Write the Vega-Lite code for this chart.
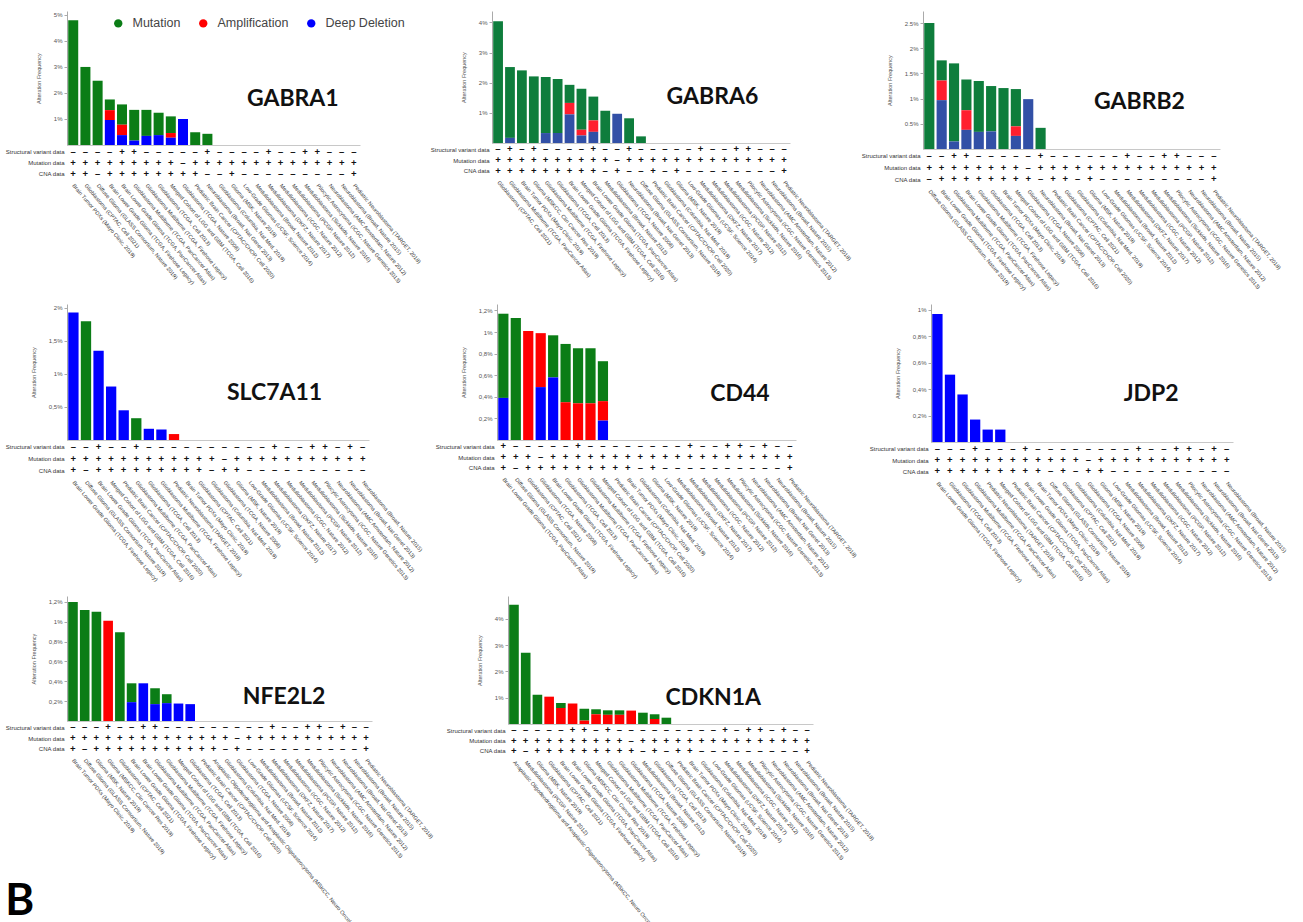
{
"$schema":"https://vega.github.io/schema/vega-lite/v6.json",
"background":"white",
"padding":{"left":5,"top":11,"right":5,"bottom":5},
"config":{"view":{"stroke":null},"axis":{"grid":false,"labelFont":"Liberation Sans","titleFont":"Liberation Sans"},"axisQuantitative":{"labelOverlap":false,"tickCount":20},"text":{"font":"Liberation Sans"},"legend":{"labelFont":"Liberation Sans"}},
"title":{"text":"B","orient":"bottom","anchor":"start","frame":"bounds","font":"Lato","fontSize":44,"fontWeight":"bold","color":"#000","offset":-58},
"datasets":{
"studies":[
{"n":1,"s":"Brain Tumor PDXs (Mayo Clinic, 2019)","Structural variant data":"–","Mutation data":"+","CNA data":"+"},
{"n":2,"s":"Glioblastoma (CPTAC, Cell 2021)","Structural variant data":"–","Mutation data":"+","CNA data":"+"},
{"n":3,"s":"Diffuse Glioma (GLASS Consortium, Nature 2019)","Structural variant data":"–","Mutation data":"+","CNA data":"–"},
{"n":4,"s":"Brain Lower Grade Glioma (TCGA, Firehose Legacy)","Structural variant data":"–","Mutation data":"+","CNA data":"+"},
{"n":5,"s":"Brain Lower Grade Glioma (TCGA, PanCancer Atlas)","Structural variant data":"+","Mutation data":"+","CNA data":"+"},
{"n":6,"s":"Glioblastoma Multiforme (TCGA, PanCancer Atlas)","Structural variant data":"+","Mutation data":"+","CNA data":"+"},
{"n":7,"s":"Glioblastoma Multiforme (TCGA, Firehose Legacy)","Structural variant data":"–","Mutation data":"+","CNA data":"+"},
{"n":8,"s":"Glioblastoma (TCGA, Cell 2013)","Structural variant data":"–","Mutation data":"+","CNA data":"+"},
{"n":9,"s":"Merged Cohort of LGG and GBM (TCGA, Cell 2016)","Structural variant data":"–","Mutation data":"+","CNA data":"+"},
{"n":10,"s":"Glioblastoma (TCGA, Nature 2008)","Structural variant data":"–","Mutation data":"–","CNA data":"+"},
{"n":11,"s":"Pediatric Brain Cancer (CPTAC/CHOP, Cell 2020)","Structural variant data":"–","Mutation data":"+","CNA data":"+"},
{"n":12,"s":"Neuroblastoma (Broad, Nat Genet 2013)","Structural variant data":"+","Mutation data":"+","CNA data":"–"},
{"n":13,"s":"Glioblastoma (Columbia, Nat Med. 2019)","Structural variant data":"–","Mutation data":"+","CNA data":"–"},
{"n":14,"s":"Glioma (MSKCC, Clin Cancer Res 2019)","Structural variant data":"+","Mutation data":"+","CNA data":"+"},
{"n":15,"s":"Glioma (MSK, Nature 2019)","Structural variant data":"–","Mutation data":"+","CNA data":"+"},
{"n":16,"s":"Low-Grade Gliomas (UCSF, Science 2014)","Structural variant data":"–","Mutation data":"+","CNA data":"–"},
{"n":17,"s":"Medulloblastoma (Broad, Nature 2012)","Structural variant data":"–","Mutation data":"+","CNA data":"–"},
{"n":18,"s":"Medulloblastoma (DKFZ, Nature 2017)","Structural variant data":"+","Mutation data":"+","CNA data":"–"},
{"n":19,"s":"Medulloblastoma (ICGC, Nature 2012)","Structural variant data":"–","Mutation data":"+","CNA data":"–"},
{"n":20,"s":"Medulloblastoma (PCGP, Nature 2012)","Structural variant data":"–","Mutation data":"+","CNA data":"–"},
{"n":21,"s":"Medulloblastoma (Sickkids, Nature 2016)","Structural variant data":"+","Mutation data":"+","CNA data":"–"},
{"n":22,"s":"Pilocytic Astrocytoma (ICGC, Nature Genetics 2013)","Structural variant data":"+","Mutation data":"+","CNA data":"–"},
{"n":23,"s":"Neuroblastoma (AMC Amsterdam, Nature 2012)","Structural variant data":"–","Mutation data":"+","CNA data":"–"},
{"n":24,"s":"Pediatric Neuroblastoma (TARGET, 2018)","Structural variant data":"–","Mutation data":"+","CNA data":"+"},
{"n":25,"s":"Anaplastic Oligodendroglioma and Anaplastic Oligoastrocytoma (MSKCC, Neuro Oncol 2017)","Structural variant data":"–","Mutation data":"+","CNA data":"+"},
{"n":26,"s":"Neuroblastoma (Broad, Nature 2015)","Structural variant data":"–","Mutation data":"+","CNA data":"–"}
],
"bars":[
{"g":"GABRA1","i":1,"n":1,"M":4.79,"A":0,"D":0},
{"g":"GABRA1","i":2,"n":2,"M":3.0,"A":0,"D":0},
{"g":"GABRA1","i":3,"n":3,"M":2.47,"A":0,"D":0},
{"g":"GABRA1","i":4,"n":4,"M":0.41,"A":0.38,"D":0.96},
{"g":"GABRA1","i":5,"n":5,"M":0.78,"A":0.4,"D":0.38},
{"g":"GABRA1","i":6,"n":6,"M":1.18,"A":0,"D":0.17},
{"g":"GABRA1","i":7,"n":7,"M":1.0,"A":0,"D":0.35},
{"g":"GABRA1","i":8,"n":8,"M":0.86,"A":0,"D":0.38},
{"g":"GABRA1","i":9,"n":9,"M":0.64,"A":0.18,"D":0.28},
{"g":"GABRA1","i":10,"n":10,"M":0,"A":0,"D":1.0},
{"g":"GABRA1","i":11,"n":11,"M":0.49,"A":0,"D":0},
{"g":"GABRA1","i":12,"n":12,"M":0.43,"A":0,"D":0},
{"g":"GABRA1","i":13,"n":13,"M":0,"A":0,"D":0},
{"g":"GABRA1","i":14,"n":15,"M":0,"A":0,"D":0},
{"g":"GABRA1","i":15,"n":16,"M":0,"A":0,"D":0},
{"g":"GABRA1","i":16,"n":17,"M":0,"A":0,"D":0},
{"g":"GABRA1","i":17,"n":18,"M":0,"A":0,"D":0},
{"g":"GABRA1","i":18,"n":19,"M":0,"A":0,"D":0},
{"g":"GABRA1","i":19,"n":20,"M":0,"A":0,"D":0},
{"g":"GABRA1","i":20,"n":21,"M":0,"A":0,"D":0},
{"g":"GABRA1","i":21,"n":22,"M":0,"A":0,"D":0},
{"g":"GABRA1","i":22,"n":23,"M":0,"A":0,"D":0},
{"g":"GABRA1","i":23,"n":26,"M":0,"A":0,"D":0},
{"g":"GABRA1","i":24,"n":24,"M":0,"A":0,"D":0},
{"g":"GABRA6","i":1,"n":2,"M":4.04,"A":0,"D":0},
{"g":"GABRA6","i":2,"n":6,"M":2.35,"A":0,"D":0.17},
{"g":"GABRA6","i":3,"n":1,"M":2.41,"A":0,"D":0},
{"g":"GABRA6","i":4,"n":14,"M":2.21,"A":0,"D":0},
{"g":"GABRA6","i":5,"n":7,"M":1.86,"A":0,"D":0.33},
{"g":"GABRA6","i":6,"n":8,"M":1.79,"A":0,"D":0.33},
{"g":"GABRA6","i":7,"n":4,"M":0.6,"A":0.38,"D":0.95},
{"g":"GABRA6","i":8,"n":9,"M":1.36,"A":0.19,"D":0.25},
{"g":"GABRA6","i":9,"n":5,"M":0.79,"A":0.38,"D":0.37},
{"g":"GABRA6","i":10,"n":17,"M":1.07,"A":0,"D":0},
{"g":"GABRA6","i":11,"n":10,"M":0,"A":0,"D":0.97},
{"g":"GABRA6","i":12,"n":12,"M":0.82,"A":0,"D":0},
{"g":"GABRA6","i":13,"n":3,"M":0.22,"A":0,"D":0},
{"g":"GABRA6","i":14,"n":11,"M":0,"A":0,"D":0},
{"g":"GABRA6","i":15,"n":13,"M":0,"A":0,"D":0},
{"g":"GABRA6","i":16,"n":15,"M":0,"A":0,"D":0},
{"g":"GABRA6","i":17,"n":16,"M":0,"A":0,"D":0},
{"g":"GABRA6","i":18,"n":18,"M":0,"A":0,"D":0},
{"g":"GABRA6","i":19,"n":19,"M":0,"A":0,"D":0},
{"g":"GABRA6","i":20,"n":20,"M":0,"A":0,"D":0},
{"g":"GABRA6","i":21,"n":21,"M":0,"A":0,"D":0},
{"g":"GABRA6","i":22,"n":22,"M":0,"A":0,"D":0},
{"g":"GABRA6","i":23,"n":23,"M":0,"A":0,"D":0},
{"g":"GABRA6","i":24,"n":26,"M":0,"A":0,"D":0},
{"g":"GABRA6","i":25,"n":24,"M":0,"A":0,"D":0},
{"g":"GABRB2","i":1,"n":3,"M":2.5,"A":0,"D":0},
{"g":"GABRB2","i":2,"n":4,"M":0.4,"A":0.39,"D":0.97},
{"g":"GABRB2","i":3,"n":6,"M":1.55,"A":0,"D":0.15},
{"g":"GABRB2","i":4,"n":5,"M":0.61,"A":0.39,"D":0.38},
{"g":"GABRB2","i":5,"n":7,"M":1.01,"A":0,"D":0.34},
{"g":"GABRB2","i":6,"n":8,"M":0.9,"A":0,"D":0.35},
{"g":"GABRB2","i":7,"n":1,"M":1.21,"A":0,"D":0},
{"g":"GABRB2","i":8,"n":9,"M":0.74,"A":0.19,"D":0.26},
{"g":"GABRB2","i":9,"n":10,"M":0,"A":0,"D":0.99},
{"g":"GABRB2","i":10,"n":12,"M":0.42,"A":0,"D":0},
{"g":"GABRB2","i":11,"n":11,"M":0,"A":0,"D":0},
{"g":"GABRB2","i":12,"n":2,"M":0,"A":0,"D":0},
{"g":"GABRB2","i":13,"n":13,"M":0,"A":0,"D":0},
{"g":"GABRB2","i":14,"n":15,"M":0,"A":0,"D":0},
{"g":"GABRB2","i":15,"n":16,"M":0,"A":0,"D":0},
{"g":"GABRB2","i":16,"n":17,"M":0,"A":0,"D":0},
{"g":"GABRB2","i":17,"n":18,"M":0,"A":0,"D":0},
{"g":"GABRB2","i":18,"n":19,"M":0,"A":0,"D":0},
{"g":"GABRB2","i":19,"n":20,"M":0,"A":0,"D":0},
{"g":"GABRB2","i":20,"n":21,"M":0,"A":0,"D":0},
{"g":"GABRB2","i":21,"n":22,"M":0,"A":0,"D":0},
{"g":"GABRB2","i":22,"n":23,"M":0,"A":0,"D":0},
{"g":"GABRB2","i":23,"n":26,"M":0,"A":0,"D":0},
{"g":"GABRB2","i":24,"n":24,"M":0,"A":0,"D":0},
{"g":"SLC7A11","i":1,"n":4,"M":0,"A":0,"D":1.93},
{"g":"SLC7A11","i":2,"n":3,"M":1.8,"A":0,"D":0},
{"g":"SLC7A11","i":3,"n":5,"M":0,"A":0,"D":1.35},
{"g":"SLC7A11","i":4,"n":9,"M":0,"A":0,"D":0.81},
{"g":"SLC7A11","i":5,"n":11,"M":0,"A":0,"D":0.45},
{"g":"SLC7A11","i":6,"n":6,"M":0.33,"A":0,"D":0},
{"g":"SLC7A11","i":7,"n":8,"M":0,"A":0,"D":0.17},
{"g":"SLC7A11","i":8,"n":7,"M":0,"A":0,"D":0.16},
{"g":"SLC7A11","i":9,"n":24,"M":0,"A":0.09,"D":0},
{"g":"SLC7A11","i":10,"n":1,"M":0,"A":0,"D":0},
{"g":"SLC7A11","i":11,"n":2,"M":0,"A":0,"D":0},
{"g":"SLC7A11","i":12,"n":13,"M":0,"A":0,"D":0},
{"g":"SLC7A11","i":13,"n":10,"M":0,"A":0,"D":0},
{"g":"SLC7A11","i":14,"n":15,"M":0,"A":0,"D":0},
{"g":"SLC7A11","i":15,"n":16,"M":0,"A":0,"D":0},
{"g":"SLC7A11","i":16,"n":17,"M":0,"A":0,"D":0},
{"g":"SLC7A11","i":17,"n":18,"M":0,"A":0,"D":0},
{"g":"SLC7A11","i":18,"n":19,"M":0,"A":0,"D":0},
{"g":"SLC7A11","i":19,"n":20,"M":0,"A":0,"D":0},
{"g":"SLC7A11","i":20,"n":21,"M":0,"A":0,"D":0},
{"g":"SLC7A11","i":21,"n":22,"M":0,"A":0,"D":0},
{"g":"SLC7A11","i":22,"n":23,"M":0,"A":0,"D":0},
{"g":"SLC7A11","i":23,"n":12,"M":0,"A":0,"D":0},
{"g":"SLC7A11","i":24,"n":26,"M":0,"A":0,"D":0},
{"g":"CD44","i":1,"n":5,"M":0.78,"A":0,"D":0.39},
{"g":"CD44","i":2,"n":3,"M":1.13,"A":0,"D":0},
{"g":"CD44","i":3,"n":2,"M":0,"A":1.01,"D":0},
{"g":"CD44","i":4,"n":10,"M":0,"A":0.5,"D":0.49},
{"g":"CD44","i":5,"n":4,"M":0.39,"A":0,"D":0.58},
{"g":"CD44","i":6,"n":8,"M":0.54,"A":0.35,"D":0},
{"g":"CD44","i":7,"n":6,"M":0.51,"A":0.34,"D":0},
{"g":"CD44","i":8,"n":7,"M":0.51,"A":0.34,"D":0},
{"g":"CD44","i":9,"n":9,"M":0.37,"A":0.18,"D":0.18},
{"g":"CD44","i":10,"n":11,"M":0,"A":0,"D":0},
{"g":"CD44","i":11,"n":1,"M":0,"A":0,"D":0},
{"g":"CD44","i":12,"n":13,"M":0,"A":0,"D":0},
{"g":"CD44","i":13,"n":15,"M":0,"A":0,"D":0},
{"g":"CD44","i":14,"n":16,"M":0,"A":0,"D":0},
{"g":"CD44","i":15,"n":17,"M":0,"A":0,"D":0},
{"g":"CD44","i":16,"n":18,"M":0,"A":0,"D":0},
{"g":"CD44","i":17,"n":19,"M":0,"A":0,"D":0},
{"g":"CD44","i":18,"n":20,"M":0,"A":0,"D":0},
{"g":"CD44","i":19,"n":21,"M":0,"A":0,"D":0},
{"g":"CD44","i":20,"n":22,"M":0,"A":0,"D":0},
{"g":"CD44","i":21,"n":23,"M":0,"A":0,"D":0},
{"g":"CD44","i":22,"n":12,"M":0,"A":0,"D":0},
{"g":"CD44","i":23,"n":26,"M":0,"A":0,"D":0},
{"g":"CD44","i":24,"n":24,"M":0,"A":0,"D":0},
{"g":"JDP2","i":1,"n":4,"M":0,"A":0,"D":0.97},
{"g":"JDP2","i":2,"n":8,"M":0,"A":0,"D":0.51},
{"g":"JDP2","i":3,"n":7,"M":0,"A":0,"D":0.36},
{"g":"JDP2","i":4,"n":6,"M":0,"A":0,"D":0.17},
{"g":"JDP2","i":5,"n":24,"M":0,"A":0,"D":0.094},
{"g":"JDP2","i":6,"n":9,"M":0,"A":0,"D":0.094},
{"g":"JDP2","i":7,"n":11,"M":0,"A":0,"D":0},
{"g":"JDP2","i":8,"n":5,"M":0,"A":0,"D":0},
{"g":"JDP2","i":9,"n":1,"M":0,"A":0,"D":0},
{"g":"JDP2","i":10,"n":3,"M":0,"A":0,"D":0},
{"g":"JDP2","i":11,"n":2,"M":0,"A":0,"D":0},
{"g":"JDP2","i":12,"n":13,"M":0,"A":0,"D":0},
{"g":"JDP2","i":13,"n":10,"M":0,"A":0,"D":0},
{"g":"JDP2","i":14,"n":15,"M":0,"A":0,"D":0},
{"g":"JDP2","i":15,"n":16,"M":0,"A":0,"D":0},
{"g":"JDP2","i":16,"n":17,"M":0,"A":0,"D":0},
{"g":"JDP2","i":17,"n":18,"M":0,"A":0,"D":0},
{"g":"JDP2","i":18,"n":19,"M":0,"A":0,"D":0},
{"g":"JDP2","i":19,"n":20,"M":0,"A":0,"D":0},
{"g":"JDP2","i":20,"n":21,"M":0,"A":0,"D":0},
{"g":"JDP2","i":21,"n":22,"M":0,"A":0,"D":0},
{"g":"JDP2","i":22,"n":23,"M":0,"A":0,"D":0},
{"g":"JDP2","i":23,"n":12,"M":0,"A":0,"D":0},
{"g":"JDP2","i":24,"n":26,"M":0,"A":0,"D":0},
{"g":"NFE2L2","i":1,"n":1,"M":1.2,"A":0,"D":0},
{"g":"NFE2L2","i":2,"n":3,"M":1.12,"A":0,"D":0},
{"g":"NFE2L2","i":3,"n":15,"M":1.1,"A":0,"D":0},
{"g":"NFE2L2","i":4,"n":14,"M":0,"A":1.01,"D":0},
{"g":"NFE2L2","i":5,"n":2,"M":0.895,"A":0,"D":0},
{"g":"NFE2L2","i":6,"n":4,"M":0.19,"A":0,"D":0.19},
{"g":"NFE2L2","i":7,"n":5,"M":0,"A":0,"D":0.38},
{"g":"NFE2L2","i":8,"n":6,"M":0.16,"A":0,"D":0.17},
{"g":"NFE2L2","i":9,"n":7,"M":0.09,"A":0,"D":0.18},
{"g":"NFE2L2","i":10,"n":9,"M":0,"A":0,"D":0.176},
{"g":"NFE2L2","i":11,"n":8,"M":0,"A":0,"D":0.17},
{"g":"NFE2L2","i":12,"n":11,"M":0,"A":0,"D":0},
{"g":"NFE2L2","i":13,"n":25,"M":0,"A":0,"D":0},
{"g":"NFE2L2","i":14,"n":13,"M":0,"A":0,"D":0},
{"g":"NFE2L2","i":15,"n":10,"M":0,"A":0,"D":0},
{"g":"NFE2L2","i":16,"n":16,"M":0,"A":0,"D":0},
{"g":"NFE2L2","i":17,"n":17,"M":0,"A":0,"D":0},
{"g":"NFE2L2","i":18,"n":18,"M":0,"A":0,"D":0},
{"g":"NFE2L2","i":19,"n":19,"M":0,"A":0,"D":0},
{"g":"NFE2L2","i":20,"n":20,"M":0,"A":0,"D":0},
{"g":"NFE2L2","i":21,"n":21,"M":0,"A":0,"D":0},
{"g":"NFE2L2","i":22,"n":22,"M":0,"A":0,"D":0},
{"g":"NFE2L2","i":23,"n":23,"M":0,"A":0,"D":0},
{"g":"NFE2L2","i":24,"n":12,"M":0,"A":0,"D":0},
{"g":"NFE2L2","i":25,"n":26,"M":0,"A":0,"D":0},
{"g":"NFE2L2","i":26,"n":24,"M":0,"A":0,"D":0},
{"g":"CDKN1A","i":1,"n":25,"M":4.54,"A":0,"D":0},
{"g":"CDKN1A","i":2,"n":20,"M":2.71,"A":0,"D":0},
{"g":"CDKN1A","i":3,"n":15,"M":1.11,"A":0,"D":0},
{"g":"CDKN1A","i":4,"n":2,"M":0,"A":1.04,"D":0},
{"g":"CDKN1A","i":5,"n":4,"M":0.19,"A":0.61,"D":0},
{"g":"CDKN1A","i":6,"n":5,"M":0,"A":0.78,"D":0},
{"g":"CDKN1A","i":7,"n":14,"M":0.45,"A":0.13,"D":0},
{"g":"CDKN1A","i":8,"n":9,"M":0.19,"A":0.37,"D":0},
{"g":"CDKN1A","i":9,"n":6,"M":0.17,"A":0.35,"D":0},
{"g":"CDKN1A","i":10,"n":7,"M":0.17,"A":0.35,"D":0},
{"g":"CDKN1A","i":11,"n":10,"M":0,"A":0.51,"D":0},
{"g":"CDKN1A","i":12,"n":17,"M":0.43,"A":0,"D":0},
{"g":"CDKN1A","i":13,"n":8,"M":0.18,"A":0.19,"D":0},
{"g":"CDKN1A","i":14,"n":3,"M":0.24,"A":0,"D":0},
{"g":"CDKN1A","i":15,"n":11,"M":0,"A":0,"D":0},
{"g":"CDKN1A","i":16,"n":1,"M":0,"A":0,"D":0},
{"g":"CDKN1A","i":17,"n":13,"M":0,"A":0,"D":0},
{"g":"CDKN1A","i":18,"n":16,"M":0,"A":0,"D":0},
{"g":"CDKN1A","i":19,"n":18,"M":0,"A":0,"D":0},
{"g":"CDKN1A","i":20,"n":19,"M":0,"A":0,"D":0},
{"g":"CDKN1A","i":21,"n":21,"M":0,"A":0,"D":0},
{"g":"CDKN1A","i":22,"n":22,"M":0,"A":0,"D":0},
{"g":"CDKN1A","i":23,"n":23,"M":0,"A":0,"D":0},
{"g":"CDKN1A","i":24,"n":12,"M":0,"A":0,"D":0},
{"g":"CDKN1A","i":25,"n":26,"M":0,"A":0,"D":0},
{"g":"CDKN1A","i":26,"n":24,"M":0,"A":0,"D":0}
]},
"spacing":12,
"resolve":{"scale":{"color":"independent"},"legend":{"color":"independent"}},
"vconcat":[
{"spacing":9,"resolve":{"scale":{"color":"independent"},"legend":{"color":"independent"}},"hconcat":[
{"spacing":1,"vconcat":[
{"width":293,"height":134,"data":{"name":"bars"},"transform":[{"filter":"datum.g == 'GABRA1'"},{"lookup":"n","from":{"data":{"name":"studies"},"key":"n","fields":["s"]}}],
"layer":[
{"transform":[{"fold":["M","A","D"],"as":["k","v"]},{"calculate":"indexof(['D','A','M'], datum.k)","as":"o"}],
"mark":{"type":"bar"},
"encoding":{
"x":{"field":"s","type":"nominal","sort":{"field":"i","op":"min"},"scale":{"paddingInner":0.18,"paddingOuter":0.1},"axis":{"labels":false,"ticks":false,"title":null,"domainColor":"#c8c8c8"}},
"y":{"field":"v","type":"quantitative","stack":"zero","scale":{"domain":[0,5.15],"nice":false},"axis":{"values":[1,2,3,4,5],"tickCount":20,"labelOverlap":false,"labelExpr":"datum.value + '%'","labelFontSize":6,"labelColor":"#555","tickSize":3,"tickColor":"#aaa","domainColor":"#aaa","title":"Alteration Frequency","titleFontSize":5.5,"titleFontWeight":"normal","titleColor":"#555","titlePadding":12}},
"color":{"field":"k","type":"nominal","scale":{"domain":["M","A","D"],"range":["#0b7d16","#ff0000","#0000ff"]},"legend":{"orient":"none","legendX":45,"legendY":6,"direction":"horizontal","title":null,"symbolType":"circle","symbolSize":70,"symbolStrokeWidth":0,"labelFontSize":12.5,"labelColor":"#444","columnPadding":16,"labelOffset":8,"labelExpr":"datum.label == 'M' ? 'Mutation' : datum.label == 'A' ? 'Amplification' : 'Deep Deletion'"}},
"order":{"field":"o","type":"quantitative"}}},
{"transform":[{"filter":"datum.i == 19"}],
"mark":{"type":"text","font":"Lato","fontWeight":"bold","fontSize":23,"color":"#111"},
"encoding":{"x":{"field":"s","type":"nominal","sort":{"field":"i","op":"min"}},"y":{"datum":1.77,"type":"quantitative"},"text":{"field":"g"}}}
]},
{"width":293,"height":33,"data":{"name":"bars"},"transform":[{"filter":"datum.g == 'GABRA1'"},{"lookup":"n","from":{"data":{"name":"studies"},"key":"n","fields":["s","Structural variant data","Mutation data","CNA data"]}},{"fold":["Structural variant data","Mutation data","CNA data"],"as":["row","sym"]}],
"mark":{"type":"text","fontSize":9.5,"fontWeight":"bold","color":"#111"},
"encoding":{
"x":{"field":"s","type":"nominal","sort":{"field":"i","op":"min"},"scale":{"paddingInner":0.18,"paddingOuter":0.1},"axis":{"title":null,"ticks":false,"domain":false,"labelAngle":50,"labelAlign":"left","labelBaseline":"middle","labelPadding":5,"labelFontSize":5.5,"labelLimit":400,"labelColor":"#333","labelOverlap":false}},
"y":{"field":"row","type":"nominal","sort":["Structural variant data","Mutation data","CNA data"],"axis":{"title":null,"ticks":false,"domain":false,"labelFontSize":6,"labelColor":"#333","labelPadding":3}},
"text":{"field":"sym"}}}
]},
{"spacing":1,"vconcat":[
{"width":298,"height":132,"data":{"name":"bars"},"transform":[{"filter":"datum.g == 'GABRA6'"},{"lookup":"n","from":{"data":{"name":"studies"},"key":"n","fields":["s"]}}],
"layer":[
{"transform":[{"fold":["M","A","D"],"as":["k","v"]},{"calculate":"indexof(['D','A','M'], datum.k)","as":"o"}],
"mark":{"type":"bar"},
"encoding":{
"x":{"field":"s","type":"nominal","sort":{"field":"i","op":"min"},"scale":{"paddingInner":0.18,"paddingOuter":0.1},"axis":{"labels":false,"ticks":false,"title":null,"domainColor":"#c8c8c8"}},
"y":{"field":"v","type":"quantitative","stack":"zero","scale":{"domain":[0,4.38],"nice":false},"axis":{"values":[1,2,3,4],"tickCount":20,"labelOverlap":false,"labelExpr":"datum.value + '%'","labelFontSize":6,"labelColor":"#555","tickSize":3,"tickColor":"#aaa","domainColor":"#aaa","title":"Alteration Frequency","titleFontSize":5.5,"titleFontWeight":"normal","titleColor":"#555","titlePadding":12}},
"color":{"field":"k","type":"nominal","scale":{"domain":["M","A","D"],"range":["#0e7d3c","#ff1f2e","#3250a6"]},"legend":null},
"order":{"field":"o","type":"quantitative"}}},
{"transform":[{"filter":"datum.i == 19"}],
"mark":{"type":"text","font":"Lato","fontWeight":"bold","fontSize":23,"color":"#111"},
"encoding":{"x":{"field":"s","type":"nominal","sort":{"field":"i","op":"min"}},"y":{"datum":1.53,"type":"quantitative"},"text":{"field":"g"}}}
]},
{"width":298,"height":32,"data":{"name":"bars"},"transform":[{"filter":"datum.g == 'GABRA6'"},{"lookup":"n","from":{"data":{"name":"studies"},"key":"n","fields":["s","Structural variant data","Mutation data","CNA data"]}},{"fold":["Structural variant data","Mutation data","CNA data"],"as":["row","sym"]}],
"mark":{"type":"text","fontSize":9.5,"fontWeight":"bold","color":"#111"},
"encoding":{
"x":{"field":"s","type":"nominal","sort":{"field":"i","op":"min"},"scale":{"paddingInner":0.18,"paddingOuter":0.1},"axis":{"title":null,"ticks":false,"domain":false,"labelAngle":50,"labelAlign":"left","labelBaseline":"middle","labelPadding":5,"labelFontSize":5.5,"labelLimit":400,"labelColor":"#333","labelOverlap":false}},
"y":{"field":"row","type":"nominal","sort":["Structural variant data","Mutation data","CNA data"],"axis":{"title":null,"ticks":false,"domain":false,"labelFontSize":6,"labelColor":"#333","labelPadding":3}},
"text":{"field":"sym"}}}
]},
{"spacing":1,"vconcat":[
{"width":297,"height":138,"data":{"name":"bars"},"transform":[{"filter":"datum.g == 'GABRB2'"},{"lookup":"n","from":{"data":{"name":"studies"},"key":"n","fields":["s"]}}],
"layer":[
{"transform":[{"fold":["M","A","D"],"as":["k","v"]},{"calculate":"indexof(['D','A','M'], datum.k)","as":"o"}],
"mark":{"type":"bar"},
"encoding":{
"x":{"field":"s","type":"nominal","sort":{"field":"i","op":"min"},"scale":{"paddingInner":0.18,"paddingOuter":0.1},"axis":{"labels":false,"ticks":false,"title":null,"domainColor":"#c8c8c8"}},
"y":{"field":"v","type":"quantitative","stack":"zero","scale":{"domain":[0,2.74],"nice":false},"axis":{"values":[0.5,1,1.5,2,2.5],"tickCount":20,"labelOverlap":false,"labelExpr":"format(datum.value, '~g') + '%'","labelFontSize":6,"labelColor":"#555","tickSize":3,"tickColor":"#aaa","domainColor":"#aaa","title":"Alteration Frequency","titleFontSize":5.5,"titleFontWeight":"normal","titleColor":"#555","titlePadding":12}},
"color":{"field":"k","type":"nominal","scale":{"domain":["M","A","D"],"range":["#0e7d3c","#ff1f2e","#3250a6"]},"legend":null},
"order":{"field":"o","type":"quantitative"}}},
{"transform":[{"filter":"datum.i == 18"}],
"mark":{"type":"text","font":"Lato","fontWeight":"bold","fontSize":23,"color":"#111"},
"encoding":{"x":{"field":"s","type":"nominal","sort":{"field":"i","op":"min"}},"y":{"datum":0.93,"type":"quantitative"},"text":{"field":"g"}}}
]},
{"width":297,"height":35,"data":{"name":"bars"},"transform":[{"filter":"datum.g == 'GABRB2'"},{"lookup":"n","from":{"data":{"name":"studies"},"key":"n","fields":["s","Structural variant data","Mutation data","CNA data"]}},{"fold":["Structural variant data","Mutation data","CNA data"],"as":["row","sym"]}],
"mark":{"type":"text","fontSize":9.5,"fontWeight":"bold","color":"#111"},
"encoding":{
"x":{"field":"s","type":"nominal","sort":{"field":"i","op":"min"},"scale":{"paddingInner":0.18,"paddingOuter":0.1},"axis":{"title":null,"ticks":false,"domain":false,"labelAngle":50,"labelAlign":"left","labelBaseline":"middle","labelPadding":5,"labelFontSize":5.5,"labelLimit":400,"labelColor":"#333","labelOverlap":false}},
"y":{"field":"row","type":"nominal","sort":["Structural variant data","Mutation data","CNA data"],"axis":{"title":null,"ticks":false,"domain":false,"labelFontSize":6,"labelColor":"#333","labelPadding":3}},
"text":{"field":"sym"}}}
]}
]},
{"spacing":12,"resolve":{"scale":{"color":"independent"},"legend":{"color":"independent"}},"hconcat":[
{"spacing":1,"vconcat":[
{"width":302,"height":136,"data":{"name":"bars"},"transform":[{"filter":"datum.g == 'SLC7A11'"},{"lookup":"n","from":{"data":{"name":"studies"},"key":"n","fields":["s"]}}],
"layer":[
{"transform":[{"fold":["M","A","D"],"as":["k","v"]},{"calculate":"indexof(['D','A','M'], datum.k)","as":"o"}],
"mark":{"type":"bar"},
"encoding":{
"x":{"field":"s","type":"nominal","sort":{"field":"i","op":"min"},"scale":{"paddingInner":0.18,"paddingOuter":0.1},"axis":{"labels":false,"ticks":false,"title":null,"domainColor":"#c8c8c8"}},
"y":{"field":"v","type":"quantitative","stack":"zero","scale":{"domain":[0,2.06],"nice":false},"axis":{"values":[0.5,1,1.5,2],"tickCount":20,"labelOverlap":false,"labelExpr":"replace(format(datum.value, '~g'), '.', ',') + '%'","labelFontSize":6,"labelColor":"#555","tickSize":3,"tickColor":"#aaa","domainColor":"#aaa","title":"Alteration Frequency","titleFontSize":5.5,"titleFontWeight":"normal","titleColor":"#555","titlePadding":12}},
"color":{"field":"k","type":"nominal","scale":{"domain":["M","A","D"],"range":["#0b7d16","#ff0000","#0000ff"]},"legend":null},
"order":{"field":"o","type":"quantitative"}}},
{"transform":[{"filter":"datum.i == 17"}],
"mark":{"type":"text","font":"Lato","fontWeight":"bold","fontSize":23,"color":"#111"},
"encoding":{"x":{"field":"s","type":"nominal","sort":{"field":"i","op":"min"}},"y":{"datum":0.71,"type":"quantitative"},"text":{"field":"g"}}}
]},
{"width":302,"height":35,"data":{"name":"bars"},"transform":[{"filter":"datum.g == 'SLC7A11'"},{"lookup":"n","from":{"data":{"name":"studies"},"key":"n","fields":["s","Structural variant data","Mutation data","CNA data"]}},{"fold":["Structural variant data","Mutation data","CNA data"],"as":["row","sym"]}],
"mark":{"type":"text","fontSize":9.5,"fontWeight":"bold","color":"#111"},
"encoding":{
"x":{"field":"s","type":"nominal","sort":{"field":"i","op":"min"},"scale":{"paddingInner":0.18,"paddingOuter":0.1},"axis":{"title":null,"ticks":false,"domain":false,"labelAngle":50,"labelAlign":"left","labelBaseline":"middle","labelPadding":5,"labelFontSize":5.5,"labelLimit":400,"labelColor":"#333","labelOverlap":false}},
"y":{"field":"row","type":"nominal","sort":["Structural variant data","Mutation data","CNA data"],"axis":{"title":null,"ticks":false,"domain":false,"labelFontSize":6,"labelColor":"#333","labelPadding":3}},
"text":{"field":"sym"}}}
]},
{"spacing":1,"vconcat":[
{"width":299,"height":136,"data":{"name":"bars"},"transform":[{"filter":"datum.g == 'CD44'"},{"lookup":"n","from":{"data":{"name":"studies"},"key":"n","fields":["s"]}}],
"layer":[
{"transform":[{"fold":["M","A","D"],"as":["k","v"]},{"calculate":"indexof(['D','A','M'], datum.k)","as":"o"}],
"mark":{"type":"bar"},
"encoding":{
"x":{"field":"s","type":"nominal","sort":{"field":"i","op":"min"},"scale":{"paddingInner":0.18,"paddingOuter":0.1},"axis":{"labels":false,"ticks":false,"title":null,"domainColor":"#c8c8c8"}},
"y":{"field":"v","type":"quantitative","stack":"zero","scale":{"domain":[0,1.26],"nice":false},"axis":{"values":[0.2,0.4,0.6,0.8,1,1.2],"tickCount":20,"labelOverlap":false,"labelExpr":"replace(format(datum.value, '~g'), '.', ',') + '%'","labelFontSize":6,"labelColor":"#555","tickSize":3,"tickColor":"#aaa","domainColor":"#aaa","title":"Alteration Frequency","titleFontSize":5.5,"titleFontWeight":"normal","titleColor":"#555","titlePadding":12}},
"color":{"field":"k","type":"nominal","scale":{"domain":["M","A","D"],"range":["#0b7d16","#ff0000","#0000ff"]},"legend":null},
"order":{"field":"o","type":"quantitative"}}},
{"transform":[{"filter":"datum.i == 20"}],
"mark":{"type":"text","font":"Lato","fontWeight":"bold","fontSize":23,"color":"#111"},
"encoding":{"x":{"field":"s","type":"nominal","sort":{"field":"i","op":"min"}},"y":{"datum":0.43,"type":"quantitative"},"text":{"field":"g"}}}
]},
{"width":299,"height":32,"data":{"name":"bars"},"transform":[{"filter":"datum.g == 'CD44'"},{"lookup":"n","from":{"data":{"name":"studies"},"key":"n","fields":["s","Structural variant data","Mutation data","CNA data"]}},{"fold":["Structural variant data","Mutation data","CNA data"],"as":["row","sym"]}],
"mark":{"type":"text","fontSize":9.5,"fontWeight":"bold","color":"#111"},
"encoding":{
"x":{"field":"s","type":"nominal","sort":{"field":"i","op":"min"},"scale":{"paddingInner":0.18,"paddingOuter":0.1},"axis":{"title":null,"ticks":false,"domain":false,"labelAngle":50,"labelAlign":"left","labelBaseline":"middle","labelPadding":5,"labelFontSize":5.5,"labelLimit":400,"labelColor":"#333","labelOverlap":false}},
"y":{"field":"row","type":"nominal","sort":["Structural variant data","Mutation data","CNA data"],"axis":{"title":null,"ticks":false,"domain":false,"labelFontSize":6,"labelColor":"#333","labelPadding":3}},
"text":{"field":"sym"}}}
]},
{"spacing":1,"vconcat":[
{"width":302,"height":138,"data":{"name":"bars"},"transform":[{"filter":"datum.g == 'JDP2'"},{"lookup":"n","from":{"data":{"name":"studies"},"key":"n","fields":["s"]}}],
"layer":[
{"transform":[{"fold":["M","A","D"],"as":["k","v"]},{"calculate":"indexof(['D','A','M'], datum.k)","as":"o"}],
"mark":{"type":"bar"},
"encoding":{
"x":{"field":"s","type":"nominal","sort":{"field":"i","op":"min"},"scale":{"paddingInner":0.18,"paddingOuter":0.1},"axis":{"labels":false,"ticks":false,"title":null,"domainColor":"#c8c8c8"}},
"y":{"field":"v","type":"quantitative","stack":"zero","scale":{"domain":[0,1.045],"nice":false},"axis":{"values":[0.2,0.4,0.6,0.8,1],"tickCount":20,"labelOverlap":false,"labelExpr":"replace(format(datum.value, '~g'), '.', ',') + '%'","labelFontSize":6,"labelColor":"#555","tickSize":3,"tickColor":"#aaa","domainColor":"#aaa","title":"Alteration Frequency","titleFontSize":5.5,"titleFontWeight":"normal","titleColor":"#555","titlePadding":12}},
"color":{"field":"k","type":"nominal","scale":{"domain":["M","A","D"],"range":["#0b7d16","#ff0000","#0000ff"]},"legend":null},
"order":{"field":"o","type":"quantitative"}}},
{"transform":[{"filter":"datum.i == 18"}],
"mark":{"type":"text","font":"Lato","fontWeight":"bold","fontSize":23,"color":"#111"},
"encoding":{"x":{"field":"s","type":"nominal","sort":{"field":"i","op":"min"}},"y":{"datum":0.36,"type":"quantitative"},"text":{"field":"g"}}}
]},
{"width":302,"height":34,"data":{"name":"bars"},"transform":[{"filter":"datum.g == 'JDP2'"},{"lookup":"n","from":{"data":{"name":"studies"},"key":"n","fields":["s","Structural variant data","Mutation data","CNA data"]}},{"fold":["Structural variant data","Mutation data","CNA data"],"as":["row","sym"]}],
"mark":{"type":"text","fontSize":9.5,"fontWeight":"bold","color":"#111"},
"encoding":{
"x":{"field":"s","type":"nominal","sort":{"field":"i","op":"min"},"scale":{"paddingInner":0.18,"paddingOuter":0.1},"axis":{"title":null,"ticks":false,"domain":false,"labelAngle":50,"labelAlign":"left","labelBaseline":"middle","labelPadding":5,"labelFontSize":5.5,"labelLimit":400,"labelColor":"#333","labelOverlap":false}},
"y":{"field":"row","type":"nominal","sort":["Structural variant data","Mutation data","CNA data"],"axis":{"title":null,"ticks":false,"domain":false,"labelFontSize":6,"labelColor":"#333","labelPadding":3}},
"text":{"field":"sym"}}}
]}
]},
{"spacing":12,"resolve":{"scale":{"color":"independent"},"legend":{"color":"independent"}},"hconcat":[
{"spacing":1,"vconcat":[
{"width":305,"height":125,"data":{"name":"bars"},"transform":[{"filter":"datum.g == 'NFE2L2'"},{"lookup":"n","from":{"data":{"name":"studies"},"key":"n","fields":["s"]}}],
"layer":[
{"transform":[{"fold":["M","A","D"],"as":["k","v"]},{"calculate":"indexof(['D','A','M'], datum.k)","as":"o"}],
"mark":{"type":"bar"},
"encoding":{
"x":{"field":"s","type":"nominal","sort":{"field":"i","op":"min"},"scale":{"paddingInner":0.18,"paddingOuter":0.1},"axis":{"labels":false,"ticks":false,"title":null,"domainColor":"#c8c8c8"}},
"y":{"field":"v","type":"quantitative","stack":"zero","scale":{"domain":[0,1.26],"nice":false},"axis":{"values":[0.2,0.4,0.6,0.8,1,1.2],"tickCount":20,"labelOverlap":false,"labelExpr":"replace(format(datum.value, '~g'), '.', ',') + '%'","labelFontSize":6,"labelColor":"#555","tickSize":3,"tickColor":"#aaa","domainColor":"#aaa","title":"Alteration Frequency","titleFontSize":5.5,"titleFontWeight":"normal","titleColor":"#555","titlePadding":12}},
"color":{"field":"k","type":"nominal","scale":{"domain":["M","A","D"],"range":["#0b7d16","#ff0000","#0000ff"]},"legend":null},
"order":{"field":"o","type":"quantitative"}}},
{"transform":[{"filter":"datum.i == 19"}],
"mark":{"type":"text","font":"Lato","fontWeight":"bold","fontSize":23,"color":"#111"},
"encoding":{"x":{"field":"s","type":"nominal","sort":{"field":"i","op":"min"}},"y":{"datum":0.24,"type":"quantitative"},"text":{"field":"g"}}}
]},
{"width":305,"height":32,"data":{"name":"bars"},"transform":[{"filter":"datum.g == 'NFE2L2'"},{"lookup":"n","from":{"data":{"name":"studies"},"key":"n","fields":["s","Structural variant data","Mutation data","CNA data"]}},{"fold":["Structural variant data","Mutation data","CNA data"],"as":["row","sym"]}],
"mark":{"type":"text","fontSize":9.5,"fontWeight":"bold","color":"#111"},
"encoding":{
"x":{"field":"s","type":"nominal","sort":{"field":"i","op":"min"},"scale":{"paddingInner":0.18,"paddingOuter":0.1},"axis":{"title":null,"ticks":false,"domain":false,"labelAngle":50,"labelAlign":"left","labelBaseline":"middle","labelPadding":5,"labelFontSize":5.5,"labelLimit":400,"labelColor":"#333","labelOverlap":false}},
"y":{"field":"row","type":"nominal","sort":["Structural variant data","Mutation data","CNA data"],"axis":{"title":null,"ticks":false,"domain":false,"labelFontSize":6,"labelColor":"#333","labelPadding":3}},
"text":{"field":"sym"}}}
]},
{"spacing":1,"vconcat":[
{"width":305,"height":128,"data":{"name":"bars"},"transform":[{"filter":"datum.g == 'CDKN1A'"},{"lookup":"n","from":{"data":{"name":"studies"},"key":"n","fields":["s"]}}],
"layer":[
{"transform":[{"fold":["M","A","D"],"as":["k","v"]},{"calculate":"indexof(['D','A','M'], datum.k)","as":"o"}],
"mark":{"type":"bar"},
"encoding":{
"x":{"field":"s","type":"nominal","sort":{"field":"i","op":"min"},"scale":{"paddingInner":0.18,"paddingOuter":0.1},"axis":{"labels":false,"ticks":false,"title":null,"domainColor":"#c8c8c8"}},
"y":{"field":"v","type":"quantitative","stack":"zero","scale":{"domain":[0,4.87],"nice":false},"axis":{"values":[1,2,3,4],"tickCount":20,"labelOverlap":false,"labelExpr":"datum.value + '%'","labelFontSize":6,"labelColor":"#555","tickSize":3,"tickColor":"#aaa","domainColor":"#aaa","title":"Alteration Frequency","titleFontSize":5.5,"titleFontWeight":"normal","titleColor":"#555","titlePadding":12}},
"color":{"field":"k","type":"nominal","scale":{"domain":["M","A","D"],"range":["#0b7d16","#ff0000","#0000ff"]},"legend":null},
"order":{"field":"o","type":"quantitative"}}},
{"transform":[{"filter":"datum.i == 18"}],
"mark":{"type":"text","font":"Lato","fontWeight":"bold","fontSize":23,"color":"#111"},
"encoding":{"x":{"field":"s","type":"nominal","sort":{"field":"i","op":"min"}},"y":{"datum":0.99,"type":"quantitative"},"text":{"field":"g"}}}
]},
{"width":305,"height":31,"data":{"name":"bars"},"transform":[{"filter":"datum.g == 'CDKN1A'"},{"lookup":"n","from":{"data":{"name":"studies"},"key":"n","fields":["s","Structural variant data","Mutation data","CNA data"]}},{"fold":["Structural variant data","Mutation data","CNA data"],"as":["row","sym"]}],
"mark":{"type":"text","fontSize":9.5,"fontWeight":"bold","color":"#111"},
"encoding":{
"x":{"field":"s","type":"nominal","sort":{"field":"i","op":"min"},"scale":{"paddingInner":0.18,"paddingOuter":0.1},"axis":{"title":null,"ticks":false,"domain":false,"labelAngle":50,"labelAlign":"left","labelBaseline":"middle","labelPadding":5,"labelFontSize":5.5,"labelLimit":400,"labelColor":"#333","labelOverlap":false}},
"y":{"field":"row","type":"nominal","sort":["Structural variant data","Mutation data","CNA data"],"axis":{"title":null,"ticks":false,"domain":false,"labelFontSize":6,"labelColor":"#333","labelPadding":3}},
"text":{"field":"sym"}}}
]}
]}
]
}
